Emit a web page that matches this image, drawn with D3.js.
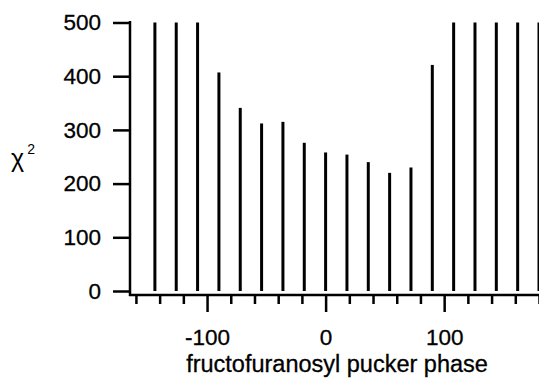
<!DOCTYPE html>
<html>
<head>
<meta charset="utf-8">
<script src="https://cdn.jsdelivr.net/npm/d3@7"></script>
<style>
  body { margin: 0; background: #fff; }
  text { font-family: "Liberation Sans", Arial, sans-serif; fill: #000; }
</style>
</head>
<body>
<svg id="chart"></svg>
<script>
// pucker phase (deg) and chi^2 values, bars above 500 are clipped at the top
const phases = [-144, -126, -108, -90, -72, -54, -36, -18, 0, 18, 36, 54, 72, 90, 108, 126, 144, 162, 180];
const chi2 = [500, 500, 500, 407, 341, 312, 315, 276, 258, 254, 240, 220, 230, 421, 500, 500, 500, 500, 500];
const yTicks = [0, 100, 200, 300, 400, 500];
const xTicks = [-160, -140, -120, -100, -80, -60, -40, -20, 0, 20, 40, 60, 80, 100, 120, 140, 160, 180];
const xLabels = [-100, 0, 100];

let width = 539;
let height = 379;
let axisLeftX = 130;
let axisBottomY = 295;

let data = phases.map((p, i) => ({phase: p, value: chi2[i]}));

let svg = d3.select("#chart")
  .attr("width", width)
  .attr("height", height);

let x = d3.scaleLinear()
  .domain([-165, 180])
  .range([axisLeftX, 539]);

let y = d3.scaleLinear()
  .domain([0, 500])
  .range([291, 22.5]);

// bars
svg.append("g")
  .attr("stroke", "#000")
  .attr("stroke-width", 3)
  .selectAll("line")
  .data(data)
  .join("line")
  .attr("x1", d => x(d.phase))
  .attr("x2", d => x(d.phase))
  .attr("y1", y(0))
  .attr("y2", d => y(Math.min(d.value, 500)));

// y axis
let yAxis = g => g
  .attr("transform", `translate(${axisLeftX},0)`)
  .call(d3.axisLeft(y).tickValues(yTicks).tickSize(17).tickPadding(12))
  .call(g => g.select(".domain").remove())
  .call(g => g.selectAll(".tick line").attr("stroke", "#000").attr("stroke-width", 2.5))
  .call(g => g.selectAll(".tick text")
    .attr("font-size", 22.5)
    .attr("fill", "#000")
    .attr("stroke", "#000")
    .attr("stroke-width", 0.3));

svg.append("g").call(yAxis);

svg.append("line")
  .attr("x1", axisLeftX).attr("x2", axisLeftX)
  .attr("y1", 21).attr("y2", axisBottomY + 1)
  .attr("stroke", "#000")
  .attr("stroke-width", 2.5);

// x axis
let xAxis = g => g
  .attr("transform", `translate(0,${axisBottomY})`)
  .call(d3.axisBottom(x).tickValues(xTicks).tickSize(9)
    .tickFormat(d => xLabels.includes(d) ? d : ""))
  .call(g => g.select(".domain").remove())
  .call(g => g.selectAll(".tick line")
    .attr("stroke", "#000")
    .attr("stroke-width", 2.5)
    .attr("y2", d => xLabels.includes(d) ? 17 : 9))
  .call(g => g.selectAll(".tick text")
    .attr("font-size", 22.5)
    .attr("fill", "#000")
    .attr("stroke", "#000")
    .attr("stroke-width", 0.3)
    .attr("y", 50)
    .attr("dy", 0));

svg.append("g").call(xAxis);

svg.append("line")
  .attr("x1", axisLeftX - 1).attr("x2", width)
  .attr("y1", axisBottomY).attr("y2", axisBottomY)
  .attr("stroke", "#000")
  .attr("stroke-width", 2.5);

// axis titles
svg.append("text")
  .attr("x", 337)
  .attr("y", 372)
  .attr("text-anchor", "middle")
  .attr("font-size", 23.5)
  .attr("stroke", "#000")
  .attr("stroke-width", 0.3)
  .text("fructofuranosyl pucker phase");

let yTitle = svg.append("text")
  .attr("x", 11)
  .attr("y", 167)
  .attr("font-size", 25);
yTitle.append("tspan").text("χ");
yTitle.append("tspan")
  .attr("font-size", 14)
  .attr("dx", 3)
  .attr("dy", -13)
  .text("2");
</script>
</body>
</html>
